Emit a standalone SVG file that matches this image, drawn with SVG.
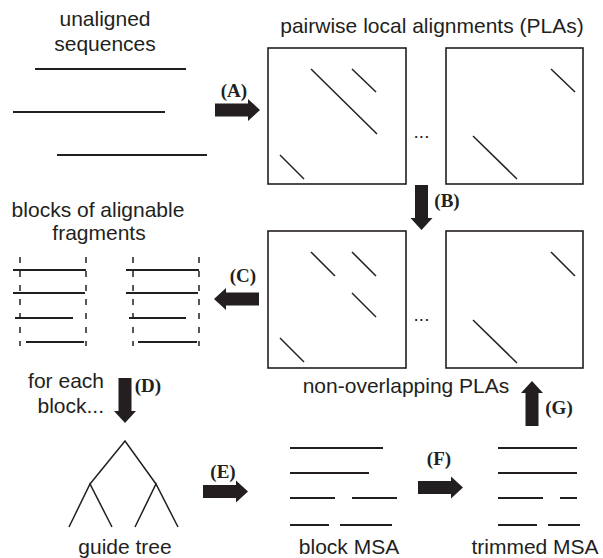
<svg xmlns="http://www.w3.org/2000/svg" width="603" height="558" viewBox="0 0 603 558">
  <style>
    .lbl { font-family: "Liberation Sans", Arial, sans-serif; font-size: 21px; fill: #231f20; }
    .step { font-family: "Liberation Serif", "Times New Roman", serif; font-size: 19px; font-weight: bold; fill: #231f20; }
    .seq { stroke: #231f20; stroke-width: 2; fill: none; }
    .box { stroke: #231f20; stroke-width: 1.6; fill: #fff; }
    .diag { stroke: #231f20; stroke-width: 1.5; fill: none; }
    .dash { stroke: #231f20; stroke-width: 1.5; stroke-dasharray: 6 8; fill: none; }
    .tree { stroke: #231f20; stroke-width: 1.5; fill: none; }
    .dots { font-family: "Liberation Sans", Arial, sans-serif; font-size: 19px; fill: #231f20; }
  </style>
  <defs>
    <!-- block arrow pointing right, tail at origin -->
    <polygon id="blockArrow" points="0,-6.5 33,-6.5 33,-11 45,0 33,11 33,6.5 0,6.5" fill="#231f20"/>
  </defs>

  <rect width="603" height="558" fill="#fff"/>

  <g id="unaligned">
    <text class="lbl" x="105" y="26" text-anchor="middle">unaligned</text>
    <text class="lbl" x="105" y="51" text-anchor="middle">sequences</text>
    <line class="seq" x1="35" y1="69" x2="186" y2="69"/>
    <line class="seq" x1="13" y1="112" x2="165" y2="112"/>
    <line class="seq" x1="57" y1="155" x2="207" y2="155"/>
  </g>

  <g id="plas">
    <text class="lbl" x="432" y="33" text-anchor="middle">pairwise local alignments (PLAs)</text>
    <rect class="box" x="268" y="48" width="138" height="136"/>
    <line class="diag" x1="311" y1="69" x2="377" y2="134"/>
    <line class="diag" x1="352" y1="69" x2="376" y2="92"/>
    <line class="diag" x1="280" y1="155" x2="304" y2="179"/>
    <text class="dots" x="421.5" y="138" text-anchor="middle">...</text>
    <rect class="box" x="446" y="48" width="137" height="136"/>
    <line class="diag" x1="551" y1="69" x2="575" y2="92"/>
    <line class="diag" x1="473" y1="136" x2="517" y2="179"/>
  </g>

  <g id="nonoverlapping">
    <rect class="box" x="268" y="231" width="138" height="137"/>
    <line class="diag" x1="311" y1="252" x2="335" y2="276"/>
    <line class="diag" x1="352" y1="252" x2="376" y2="276"/>
    <line class="diag" x1="352" y1="293" x2="376" y2="317"/>
    <line class="diag" x1="280" y1="338" x2="304" y2="362"/>
    <text class="dots" x="421.5" y="321" text-anchor="middle">...</text>
    <rect class="box" x="446" y="231" width="137" height="137"/>
    <line class="diag" x1="551" y1="252" x2="575" y2="276"/>
    <line class="diag" x1="473" y1="320" x2="517" y2="363"/>
    <text class="lbl" x="406" y="393" text-anchor="middle">non-overlapping PLAs</text>
  </g>

  <g id="blocks">
    <text class="lbl" x="98" y="217" text-anchor="middle">blocks of alignable</text>
    <text class="lbl" x="99" y="240" text-anchor="middle">fragments</text>
    <line class="dash" x1="20" y1="257" x2="20" y2="346"/>
    <line class="dash" x1="86" y1="257" x2="86" y2="346"/>
    <line class="seq" x1="13" y1="270" x2="86" y2="270"/>
    <line class="seq" x1="13" y1="293" x2="85" y2="293"/>
    <line class="seq" x1="15" y1="318" x2="73" y2="318"/>
    <line class="seq" x1="26" y1="342" x2="84" y2="342"/>
    <line class="dash" x1="133" y1="257" x2="133" y2="346"/>
    <line class="dash" x1="199" y1="257" x2="199" y2="346"/>
    <line class="seq" x1="126" y1="270" x2="199" y2="270"/>
    <line class="seq" x1="126" y1="293" x2="198" y2="293"/>
    <line class="seq" x1="129" y1="318" x2="186" y2="318"/>
    <line class="seq" x1="138" y1="342" x2="197" y2="342"/>
  </g>

  <g id="foreach">
    <text class="lbl" x="104" y="388" text-anchor="end">for each</text>
    <text class="lbl" x="104" y="413" text-anchor="end">block...</text>
  </g>

  <g id="guidetree">
    <polyline class="tree" points="90,484 125,441 156,484"/>
    <polyline class="tree" points="69,527 90,484 112,527"/>
    <polyline class="tree" points="135,527 156,484 178,527"/>
    <text class="lbl" x="125" y="554" text-anchor="middle">guide tree</text>
  </g>

  <g id="blockmsa">
    <line class="seq" x1="290" y1="448" x2="383" y2="448"/>
    <line class="seq" x1="290" y1="473" x2="369" y2="473"/>
    <line class="seq" x1="290" y1="498" x2="335" y2="498"/>
    <line class="seq" x1="352" y1="498" x2="397" y2="498"/>
    <line class="seq" x1="290" y1="525" x2="329" y2="525"/>
    <line class="seq" x1="340" y1="525" x2="392" y2="525"/>
    <text class="lbl" x="349" y="554" text-anchor="middle">block MSA</text>
  </g>

  <g id="trimmedmsa">
    <line class="seq" x1="498" y1="448" x2="577" y2="448"/>
    <line class="seq" x1="498" y1="473" x2="577" y2="473"/>
    <line class="seq" x1="498" y1="498" x2="543" y2="498"/>
    <line class="seq" x1="560" y1="498" x2="577" y2="498"/>
    <line class="seq" x1="498" y1="525" x2="537" y2="525"/>
    <line class="seq" x1="548" y1="525" x2="580" y2="525"/>
    <text class="lbl" x="535" y="554" text-anchor="middle">trimmed MSA</text>
  </g>

  <g id="connectors">
    <use href="#blockArrow" transform="translate(215,110)"/>
    <text class="step" x="234" y="97" text-anchor="middle">(A)</text>
    <use href="#blockArrow" transform="translate(421.5,185) rotate(90)"/>
    <text class="step" x="447" y="207" text-anchor="middle">(B)</text>
    <use href="#blockArrow" transform="translate(259,299) rotate(180)"/>
    <text class="step" x="243" y="282" text-anchor="middle">(C)</text>
    <use href="#blockArrow" transform="translate(125,378) rotate(90)"/>
    <text class="step" x="148" y="392" text-anchor="middle">(D)</text>
    <use href="#blockArrow" transform="translate(203,491.5)"/>
    <text class="step" x="223" y="478" text-anchor="middle">(E)</text>
    <use href="#blockArrow" transform="translate(418,487.5)"/>
    <text class="step" x="439" y="465" text-anchor="middle">(F)</text>
    <use href="#blockArrow" transform="translate(532,426) rotate(-90)"/>
    <text class="step" x="559" y="414" text-anchor="middle">(G)</text>
  </g>
</svg>
